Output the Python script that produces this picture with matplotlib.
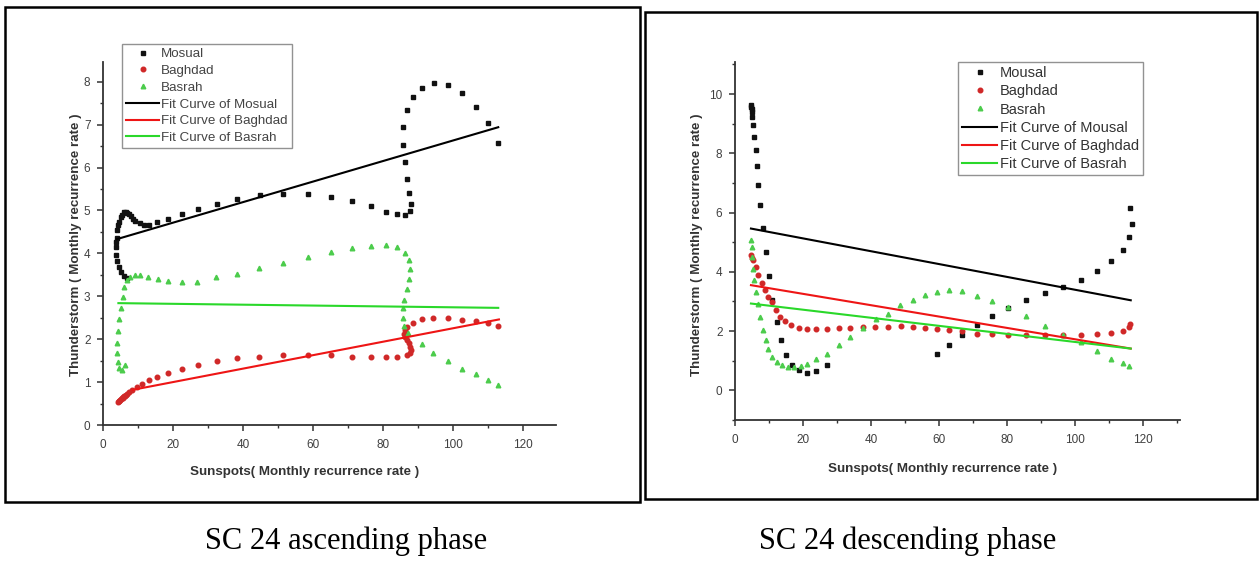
import matplotlib
matplotlib.use("Agg")
import matplotlib.pyplot as plt
from matplotlib.patches import Rectangle
from matplotlib.ticker import MultipleLocator

plt.rcParams['font.family'] = ['Liberation Sans', 'DejaVu Sans']

# ---------------- SC 24 ascending phase ----------------
asc_mosul_x = [6.8, 6.0, 5.2, 4.6, 4.1, 3.8, 3.7, 3.8, 3.9, 4.1, 4.4, 4.7, 5.0, 5.5, 6.0, 6.5, 6.9, 7.4, 7.9, 8.5, 9.1, 10.6,
               11.8, 13.2, 15.5, 18.7, 22.5, 27.2, 32.5, 38.4, 44.9, 51.5, 58.5, 65.1, 71.2, 76.6, 80.9, 84.1,
               86.4, 87.7, 87.9, 87.4, 86.8, 86.2, 85.7, 85.7, 86.7, 88.6, 91.2, 94.6, 98.5, 102.6, 106.6,
               110.0, 112.9]
asc_mosul_y = [3.42, 3.47, 3.56, 3.69, 3.82, 3.97, 4.16, 4.26, 4.35, 4.55, 4.65, 4.74, 4.84, 4.90, 4.97, 4.97, 4.95,
               4.91, 4.86, 4.81, 4.76, 4.70, 4.67, 4.66, 4.72, 4.79, 4.91, 5.03, 5.14, 5.26, 5.36, 5.38, 5.38,
               5.32, 5.22, 5.11, 4.97, 4.91, 4.90, 4.99, 5.14, 5.40, 5.73, 6.12, 6.52, 6.94, 7.34, 7.65, 7.86,
               7.96, 7.92, 7.74, 7.41, 7.03, 6.57]

asc_baghdad_x = [4.3, 4.5, 4.7, 4.9, 5.1, 5.3, 5.6, 5.8, 6.1, 6.3, 6.6, 6.8, 7.4, 8.2, 9.6, 11.1, 13.2, 15.5, 18.7,
                 22.5, 27.0, 32.5, 38.4, 44.6, 51.5, 58.5, 65.1, 71.2, 76.6, 80.9, 84.1, 86.8, 87.6, 87.9,
                 87.8, 87.4, 86.8, 86.3, 86.0, 86.3, 86.9, 88.5, 91.0, 94.4, 98.5, 102.6, 106.6, 110.0, 112.9]
asc_baghdad_y = [0.53, 0.55, 0.57, 0.58, 0.60, 0.62, 0.63, 0.65, 0.67, 0.68, 0.70, 0.72, 0.77, 0.82, 0.88, 0.95,
                 1.05, 1.13, 1.22, 1.31, 1.40, 1.50, 1.55, 1.59, 1.62, 1.62, 1.62, 1.59, 1.58, 1.59, 1.59,
                 1.63, 1.68, 1.75, 1.82, 1.90, 1.98, 2.05, 2.12, 2.21, 2.29, 2.38, 2.46, 2.49, 2.49, 2.45,
                 2.43, 2.38, 2.31]

asc_basrah_x = [6.3, 5.3, 4.7, 4.4, 4.1, 4.1, 4.4, 4.7, 5.05, 5.6, 6.0, 6.8, 7.7, 9.1, 10.6, 12.9, 15.8, 18.7,
                22.5, 26.8, 32.3, 38.2, 44.6, 51.5, 58.5, 65.1, 71.2, 76.6, 80.9, 84.1, 86.4, 87.5, 87.8,
                87.4, 86.9, 86.0, 85.6, 85.6, 86.1, 87.2, 91.0, 94.4, 98.5, 102.6, 106.6, 110.0, 112.9]
asc_basrah_y = [1.40, 1.28, 1.32, 1.46, 1.67, 1.92, 2.18, 2.46, 2.72, 2.99, 3.22, 3.38, 3.46, 3.50, 3.50, 3.46,
                3.40, 3.36, 3.34, 3.34, 3.46, 3.52, 3.65, 3.78, 3.91, 4.03, 4.13, 4.17, 4.20, 4.14, 4.02,
                3.85, 3.64, 3.40, 3.17, 2.91, 2.72, 2.49, 2.31, 2.15, 1.88, 1.67, 1.49, 1.31, 1.20, 1.05, 0.93]

asc_fit_mosul_x, asc_fit_mosul_y = [3.9, 112.9], [4.33, 6.94]
asc_fit_baghdad_x, asc_fit_baghdad_y = [8.5, 113.1], [0.82, 2.46]
asc_fit_basrah_x, asc_fit_basrah_y = [4.4, 112.9], [2.84, 2.73]

# ---------------- SC 24 descending phase ----------------
des_mosul_x = [4.7, 4.8, 4.9, 5.0, 5.1, 5.4, 5.7, 6.1, 6.4, 6.9, 7.4, 8.3, 9.1, 10.0, 10.8, 12.3, 13.5, 15.0, 16.9,
               18.9, 21.1, 23.9, 27.0, 59.5, 63.1, 66.9, 71.3, 75.7, 80.5, 85.8, 91.2, 96.7, 101.8, 106.7,
               110.8, 114.1, 116.1, 116.8, 116.2]
des_mosul_y = [9.63, 9.57, 9.50, 9.40, 9.23, 8.95, 8.56, 8.11, 7.57, 6.93, 6.27, 5.49, 4.67, 3.85, 3.04, 2.31,
               1.69, 1.18, 0.84, 0.68, 0.59, 0.65, 0.84, 1.22, 1.52, 1.86, 2.22, 2.51, 2.78, 3.04, 3.27, 3.49,
               3.74, 4.02, 4.37, 4.75, 5.16, 5.63, 6.14]

des_baghdad_x = [4.7, 5.0, 5.4, 6.1, 6.9, 7.9, 8.8, 9.8, 11.0, 12.0, 13.3, 14.7, 16.5, 18.7, 21.1, 23.9, 27.0,
                 30.5, 33.9, 37.7, 41.3, 45.1, 48.9, 52.4, 55.9, 59.5, 63.1, 66.9, 71.3, 75.7, 80.4, 85.8,
                 91.2, 96.7, 101.8, 106.7, 110.8, 114.1, 116.1, 116.4]
des_baghdad_y = [4.56, 4.48, 4.39, 4.17, 3.89, 3.63, 3.38, 3.15, 2.98, 2.70, 2.48, 2.34, 2.20, 2.12, 2.08, 2.08,
                 2.08, 2.10, 2.12, 2.14, 2.14, 2.15, 2.16, 2.14, 2.10, 2.06, 2.03, 2.00, 1.91, 1.89, 1.86,
                 1.86, 1.86, 1.86, 1.88, 1.91, 1.94, 2.00, 2.14, 2.23]

des_basrah_x = [4.7, 4.9, 5.1, 5.4, 5.7, 6.1, 6.7, 7.4, 8.1, 9.1, 9.8, 11.0, 12.3, 13.8, 15.5, 17.5, 19.3, 21.1,
                23.9, 27.0, 30.5, 33.9, 37.7, 41.5, 44.9, 48.7, 52.4, 55.9, 59.5, 63.1, 66.9, 71.3, 75.7,
                80.4, 85.8, 91.2, 96.7, 101.8, 106.7, 110.8, 114.1, 116.1]
des_basrah_y = [5.07, 4.85, 4.50, 4.11, 3.72, 3.32, 2.93, 2.48, 2.05, 1.69, 1.41, 1.13, 0.96, 0.84, 0.79, 0.78,
                0.83, 0.90, 1.07, 1.24, 1.54, 1.80, 2.12, 2.42, 2.57, 2.87, 3.06, 3.21, 3.33, 3.37, 3.34,
                3.20, 3.00, 2.80, 2.52, 2.18, 1.86, 1.62, 1.34, 1.07, 0.92, 0.83]

des_fit_mosul_x, des_fit_mosul_y = [4.7, 116.5], [5.46, 3.04]
des_fit_baghdad_x, des_fit_baghdad_y = [4.7, 116.5], [3.55, 1.41]
des_fit_basrah_x, des_fit_basrah_y = [4.7, 116.5], [2.93, 1.41]

captions = ["SC 24 ascending phase", "SC 24 descending phase"]

W, H = 1260, 562
fig = plt.figure(figsize=(W / 100, H / 100), dpi=100)

# panel frames
for (x0, y0, x1, y1) in [(5, 7, 640, 502), (645, 12, 1257, 499)]:
    fig.patches.append(Rectangle((x0 / W, 1 - y1 / H), (x1 - x0) / W, (y1 - y0) / H,
                                 transform=fig.transFigure, fill=False, lw=1.8, ec='black'))

C_BLACK = '#111111'
C_RED_M = '#d02828'
C_GREEN_M = '#4ccc4c'
C_RED_L = '#ee1515'
C_GREEN_L = '#2ad82a'
TICK_C = '#404040'


def style_axes(ax, xmaj, xmin, ymaj, ymin):
    for s in ['top', 'right']:
        ax.spines[s].set_visible(False)
    for s in ['left', 'bottom']:
        ax.spines[s].set_linewidth(1.3)
        ax.spines[s].set_color('#333333')
    ax.xaxis.set_major_locator(MultipleLocator(xmaj))
    ax.xaxis.set_minor_locator(MultipleLocator(xmin))
    ax.yaxis.set_major_locator(MultipleLocator(ymaj))
    ax.yaxis.set_minor_locator(MultipleLocator(ymin))
    ax.tick_params(which='major', direction='out', length=4, width=1.1, color='#333333',
                   labelsize=8.5, labelcolor=TICK_C)
    ax.tick_params(axis='x', which='major', pad=6)
    ax.tick_params(axis='y', which='major', pad=5)
    ax.tick_params(which='minor', direction='out', length=2.5, width=1.0, color='#333333')
    ax.set_facecolor('none')


def draw_panel(ax, mos, bag, bas, fits, names, mk):
    ms = 3.3
    ax.plot(mos[0], mos[1], ls='none', marker=mk[0], ms=ms, color=C_BLACK, mec=C_BLACK, label=names[0])
    ax.plot(bag[0], bag[1], ls='none', marker=mk[1], ms=ms, color=C_RED_M, mec=C_RED_M, label=names[1])
    ax.plot(bas[0], bas[1], ls='none', marker=mk[2], ms=ms, color=C_GREEN_M, mec=C_GREEN_M, label=names[2])
    ax.plot(fits[0][0], fits[0][1], color='black', lw=1.5, label=names[3])
    ax.plot(fits[1][0], fits[1][1], color=C_RED_L, lw=1.5, label=names[4])
    ax.plot(fits[2][0], fits[2][1], color=C_GREEN_L, lw=1.5, label=names[5])


lab_font = dict(fontsize=9.6, fontweight='bold', color='#333333')

# ---- left axes ----
axL = fig.add_axes([103 / W, 1 - 425 / H, 453 / W, 363 / H])
draw_panel(axL, (asc_mosul_x, asc_mosul_y), (asc_baghdad_x, asc_baghdad_y), (asc_basrah_x, asc_basrah_y),
           [(asc_fit_mosul_x, asc_fit_mosul_y), (asc_fit_baghdad_x, asc_fit_baghdad_y),
            (asc_fit_basrah_x, asc_fit_basrah_y)],
           ['Mosual', 'Baghdad', 'Basrah', 'Fit Curve of Mosual', 'Fit Curve of Baghdad', 'Fit Curve of Basrah'],
           ['s', 'o', '^'])
axL.set_xlim(0, 129.4)
axL.set_ylim(0, 8.46)
style_axes(axL, 20, 10, 1, 0.5)
axL.set_xlabel('Sunspots( Monthly recurrence rate )', **lab_font)
axL.set_ylabel('Thunderstorm ( Monthly recurrence rate )', **lab_font)
axL.xaxis.set_label_coords(0.446, -0.114)
axL.yaxis.set_label_coords(-0.047, 0.496)
legL = axL.legend(loc='upper left', bbox_to_anchor=(122 / W, 1 - 44 / H), bbox_transform=fig.transFigure,
                  fontsize=9.6, frameon=True, fancybox=False, borderaxespad=0, borderpad=0.3,
                  labelspacing=0.33, handlelength=2.5, handletextpad=0.15, markerscale=1.0)
legL.get_frame().set_edgecolor('#777777')
legL.get_frame().set_linewidth(1.0)
for t in legL.get_texts():
    t.set_color('#444444')

# ---- right axes ----
axR = fig.add_axes([735 / W, 1 - 420 / H, 445 / W, 358 / H])
draw_panel(axR, (des_mosul_x, des_mosul_y), (des_baghdad_x, des_baghdad_y), (des_basrah_x, des_basrah_y),
           [(des_fit_mosul_x, des_fit_mosul_y), (des_fit_baghdad_x, des_fit_baghdad_y),
            (des_fit_basrah_x, des_fit_basrah_y)],
           ['Mousal', 'Baghdad', 'Basrah', 'Fit Curve of Mousal', 'Fit Curve of Baghdad', 'Fit Curve of Basrah'],
           ['s', 'o', '^'])
axR.set_xlim(0, 131)
axR.set_ylim(-1, 11.08)
style_axes(axR, 20, 10, 2, 1)
axR.set_xlabel('Sunspots( Monthly recurrence rate )', **lab_font)
axR.set_ylabel('Thunderstorm ( Monthly recurrence rate )', **lab_font)
axR.xaxis.set_label_coords(0.467, -0.119)
axR.yaxis.set_label_coords(-0.071, 0.49)
legR = axR.legend(loc='upper left', bbox_to_anchor=(958 / W, 1 - 62 / H), bbox_transform=fig.transFigure,
                  fontsize=10.5, frameon=True, fancybox=False, borderaxespad=0, borderpad=0.3,
                  labelspacing=0.28, handlelength=2.4, handletextpad=0.15, markerscale=1.0)
legR.get_frame().set_edgecolor('#777777')
legR.get_frame().set_linewidth(1.0)
for t in legR.get_texts():
    t.set_color('#333333')

# captions
fig.text(346 / W, 1 - 541 / H, captions[0], ha='center', va='center', fontsize=22,
         family=['Liberation Serif', 'DejaVu Serif'])
fig.text(908 / W, 1 - 541 / H, captions[1], ha='center', va='center', fontsize=22,
         family=['Liberation Serif', 'DejaVu Serif'])

fig.savefig('out.png', dpi=100)
